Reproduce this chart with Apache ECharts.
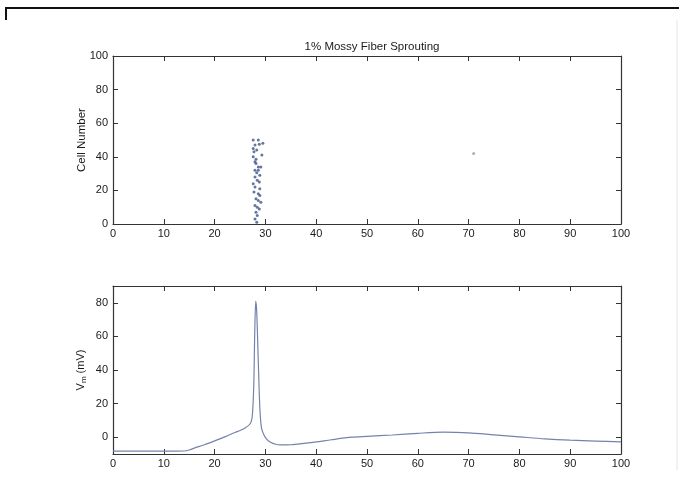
<!DOCTYPE html>
<html>
<head>
<meta charset="utf-8">
<script src="https://cdn.jsdelivr.net/npm/echarts@6/dist/echarts.min.js"></script>
<style>
html,body{margin:0;padding:0;background:#fff;}
#main{width:679px;height:480px;}
</style>
</head>
<body>
<div id="main"></div>
<script>
// raster: spike time (ms) and cell number
var spikeTime = [27.6, 28.6, 29.5, 27.95, 28.8, 27.6, 28.3, 27.75, 28.15, 29.3, 27.6, 27.95, 28.15, 28.6, 29.1, 27.95, 28.6,
	28.3, 28.9, 27.95, 28.4, 28.8, 27.6, 27.95, 28.9, 27.75, 28.6, 28.9, 28.15, 28.6, 29.1, 27.95, 28.4, 28.8, 28.15, 28.4, 27.95, 28.3];
var spikeCell = [50, 50, 48, 47, 47.5, 45, 44, 43, 38.5, 41, 40, 37, 36, 34, 34, 32, 32,
	30.5, 29, 28, 26, 25, 24, 22, 21, 19, 18, 17, 15, 14, 13, 11, 10, 9, 7, 5, 3, 1];
// lone late spike
var strayTime = [71.0];
var strayCell = [42];

// membrane potential trace
var vmTime = [0, 5, 10, 14, 15, 16, 18, 20, 22, 24, 25, 26, 27, 27.4, 27.7, 27.9, 28.1, 28.3, 28.6, 28.9, 29.2, 29.6, 30.2, 31, 32, 33, 35, 38, 40, 43, 47, 50, 55, 60, 65, 70, 75, 80, 85, 90, 95, 100];
var vmVal = [-8.3, -8.3, -8.3, -8.2, -7.6, -6.5, -4.5, -2.2, 0.2, 2.8, 4, 5.5, 8, 12, 30, 62, 81, 74, 45, 18, 6, 2, -1, -3, -4.2, -4.6, -4.5, -3.5, -2.8, -1.5, 0, 0.5, 1.3, 2.3, 3, 2.6, 1.4, 0.2, -1, -1.8, -2.3, -2.8];

var vmTicks = [0, 20, 40, 60, 80];

function pairs(a, b) {
	var out = [];
	for (var i = 0; i < a.length; i++) out.push([a[i], b[i]]);
	return out;
}

var lineCol = '#333';
var txtCol = '#1a1a1a';
var font = 'Liberation Sans, Arial, sans-serif';

function xAx(grid, top) {
	return {
		type: 'value', gridIndex: grid, min: 0, max: 100, interval: 10,
		position: top ? 'top' : 'bottom',
		axisLine: { onZero: false, lineStyle: { color: lineCol, width: 1.2 } },
		axisTick: { inside: true, length: 5, lineStyle: { color: lineCol } },
		axisLabel: { show: !top, color: txtCol, fontFamily: font, fontSize: 11, margin: 4 },
		splitLine: { show: false }
	};
}
function yAx(grid, right, custom) {
	var ax = {
		type: 'value', gridIndex: grid,
		position: right ? 'right' : 'left',
		axisLine: { onZero: false, lineStyle: { color: lineCol, width: 1.2 } },
		axisTick: { inside: true, length: 5, lineStyle: { color: lineCol } },
		axisLabel: { show: !right, color: txtCol, fontFamily: font, fontSize: 11, margin: 5 },
		splitLine: { show: false }
	};
	if (custom) {
		ax.min = -10; ax.max = 90;
		ax.axisTick.customValues = vmTicks;
		ax.axisLabel.customValues = vmTicks;
	} else {
		ax.min = 0; ax.max = 100; ax.interval = 20;
	}
	return ax;
}

var yTop = yAx(0, false, false);
yTop.name = 'Cell Number';
yTop.nameLocation = 'middle';
yTop.nameGap = 25;
yTop.nameMoveOverlap = false;
yTop.nameTextStyle = { color: txtCol, fontFamily: font, fontSize: 11.5 };

var yBot = yAx(1, false, true);
yBot.name = '{v|V}{s|m}{v| (mV)}';
yBot.nameLocation = 'middle';
yBot.nameGap = 25;
yBot.nameMoveOverlap = false;
yBot.nameTextStyle = {
	rich: {
		v: { color: txtCol, fontFamily: font, fontSize: 11 },
		s: { color: txtCol, fontFamily: font, fontSize: 8, verticalAlign: 'bottom', padding: [6, 0, 0, 0] }
	}
};

var myChart = echarts.init(document.getElementById('main'));
var option = {
	animation: false,
	backgroundColor: '#fff',
	title: {
		text: '1% Mossy Fiber Sprouting',
		left: 367, top: 36, textAlign: 'center',
		textStyle: { color: txtCol, fontFamily: font, fontSize: 11.5, fontWeight: 'normal' }
	},
	grid: [
		{ left: 113, right: 58, top: 56, height: 168 },
		{ left: 113, right: 58, top: 286, height: 168 }
	],
	xAxis: [xAx(0, false), xAx(0, true), xAx(1, false), xAx(1, true)],
	yAxis: [yTop, yAx(0, true, false), yBot, yAx(1, true, true)],
	series: [
		{
			type: 'scatter', xAxisIndex: 0, yAxisIndex: 0,
			data: pairs(spikeTime, spikeCell), symbolSize: 3,
			itemStyle: { color: '#3d5488' }
		},
		{
			type: 'scatter', xAxisIndex: 0, yAxisIndex: 0,
			data: pairs(strayTime, strayCell), symbolSize: 3,
			itemStyle: { color: '#9a9aa6' }
		},
		{
			type: 'line', xAxisIndex: 2, yAxisIndex: 2,
			data: pairs(vmTime, vmVal), smooth: 0.3, showSymbol: false,
			lineStyle: { color: '#7782ab', width: 1.2 }
		}
	],
	graphic: [
		{ type: 'line', shape: { x1: 6, y1: 8, x2: 679, y2: 8 }, style: { stroke: '#111', lineWidth: 2 } },
		{ type: 'line', shape: { x1: 6, y1: 7, x2: 6, y2: 20 }, style: { stroke: '#111', lineWidth: 2 } },
		{ type: 'line', shape: { x1: 677, y1: 20, x2: 677, y2: 470 }, style: { stroke: '#e4e4e4', lineWidth: 1 } }
	]
};
myChart.setOption(option);
</script>
</body>
</html>
